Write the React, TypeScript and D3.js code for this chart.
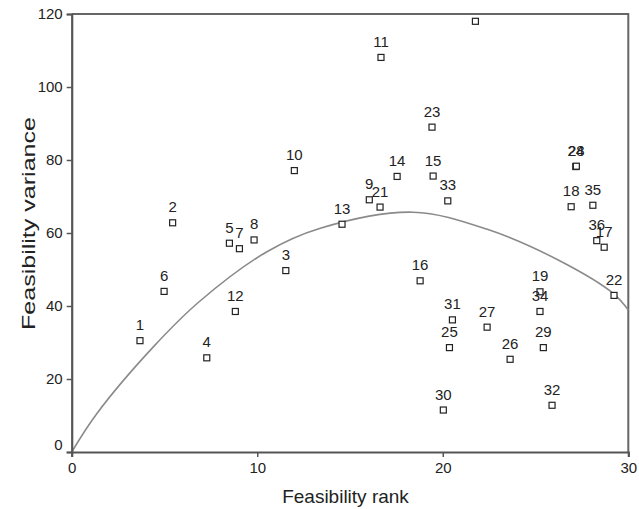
import React, { useEffect, useRef } from "react";
import * as d3 from "d3";

// project numbers, rank on x, variance on y
const ids = [
  1, 2, 3, 4, 5, 6, 7, 8, 9, 10, 11, 12, 13, 14, 15, 16, 17, 18, 19, 20, 21,
  22, 23, 24, 25, 26, 27, 28, 29, 30, 31, 32, 33, 34, 35, 36,
];
const ranks = [
  3.68, 5.44, 11.54, 7.28, 8.5, 4.98, 9.04, 9.83, 16.04, 12.0, 16.67, 8.82,
  14.57, 17.54, 19.48, 18.78, 28.7, 26.92, 25.24, 21.76, 16.62, 29.23, 19.42,
  27.17, 20.36, 23.63, 22.39, 27.2, 25.42, 20.03, 20.52, 25.89, 20.27, 25.24,
  28.09, 28.3,
];
const variances = [
  30.5, 62.8, 49.7, 25.8, 57.2, 44.0, 55.7, 58.1, 69.1, 77.1, 108.1, 38.5,
  62.4, 75.5, 75.6, 46.9, 56.1, 67.2, 43.9, 118.0, 67.1, 42.9, 89.0, 78.2,
  28.6, 25.4, 34.2, 78.3, 28.6, 11.5, 36.2, 12.8, 68.8, 38.5, 67.6, 57.9,
];

// trend line
const trendRank = [0, 1.35, 4.4, 6.9, 10.5, 13.4, 18.4, 22.4, 26.3, 29.2, 30];
const trendValue = [0, 10.5, 28.8, 41.3, 54.8, 61.3, 65.7, 61.0, 52.4, 43.4, 38.9];

const xTicks = [0, 10, 20, 30];
const yTicks = [0, 20, 40, 60, 80, 100, 120];

const font = "'Liberation Sans', Arial, sans-serif";

const App = () => {
  const svgRef = useRef<SVGSVGElement | null>(null);

  useEffect(() => {
    if (!svgRef.current) return;
    const svg = d3.select(svgRef.current);
    svg.selectAll("*").remove();

    const x = d3.scaleLinear().domain([0, 30]).range([71.7, 628.3]);
    const y = d3.scaleLinear().domain([0, 120]).range([452, 14]);

    svg
      .append("defs")
      .append("clipPath")
      .attr("id", "plot-clip")
      .append("rect")
      .attr("x", x(0))
      .attr("y", y(120))
      .attr("width", x(30) - x(0))
      .attr("height", y(0) - y(120));

    // frame (top + right)
    svg
      .append("path")
      .attr("d", `M${x(0)},${y(120)}H${x(30)}V${y(0)}`)
      .attr("fill", "none")
      .attr("stroke", "#666")
      .attr("stroke-width", 2);

    // trend curve
    const line = d3
      .line<number>()
      .x((d, i) => x(trendRank[i]))
      .y((d) => y(d))
      .curve(d3.curveCatmullRom.alpha(0.5));
    svg
      .append("path")
      .attr("d", line(trendValue))
      .attr("fill", "none")
      .attr("stroke", "#8a8a8a")
      .attr("stroke-width", 1.6);

    // axes
    const yAxis = svg
      .append("g")
      .attr("transform", `translate(${x(0)},0)`)
      .call(d3.axisLeft(y).tickValues(yTicks).tickSize(5).tickPadding(4));
    const xAxis = svg
      .append("g")
      .attr("transform", `translate(0,${y(0)})`)
      .call(d3.axisBottom(x).tickValues(xTicks).tickSize(5).tickPadding(5));

    [yAxis, xAxis].forEach((ax) => {
      ax.select(".domain").attr("stroke", "#555").attr("stroke-width", 2.2);
      ax.selectAll(".tick line").attr("stroke", "#555").attr("stroke-width", 1.5);
      ax.selectAll(".tick text")
        .attr("fill", "#222")
        .attr("font-size", 15)
        .attr("font-family", font);
    });
    yAxis
      .selectAll<SVGTextElement, number>(".tick text")
      .attr("dy", (d) => (d === 0 ? "-0.2em" : "0.32em"));

    // points
    const pts = svg.append("g");
    ids.forEach((id, i) => {
      const cx = x(ranks[i]);
      const cy = y(variances[i]);
      pts
        .append("rect")
        .attr("x", cx - 3)
        .attr("y", cy - 3)
        .attr("width", 6)
        .attr("height", 6)
        .attr("fill", "white")
        .attr("stroke", "#222")
        .attr("stroke-width", 1.2);
    });

    const labels = svg.append("g").attr("clip-path", "url(#plot-clip)");
    ids.forEach((id, i) => {
      labels
        .append("text")
        .attr("x", x(ranks[i]))
        .attr("y", y(variances[i]) - 10.5)
        .attr("text-anchor", "middle")
        .attr("font-size", 15)
        .attr("font-family", font)
        .attr("fill", "#222")
        .text(id);
    });

    // axis titles
    svg
      .append("text")
      .attr("x", 345.5)
      .attr("y", 503)
      .attr("text-anchor", "middle")
      .attr("font-size", 19)
      .attr("font-family", font)
      .attr("fill", "#222")
      .text("Feasibility rank");

    svg
      .append("text")
      .attr("transform", "translate(34.5,223.5) rotate(-90)")
      .attr("text-anchor", "middle")
      .attr("font-size", 19)
      .attr("font-family", font)
      .attr("fill", "#222")
      .attr("textLength", 213)
      .attr("lengthAdjust", "spacingAndGlyphs")
      .text("Feasibility variance");
  }, []);

  return (
    <div>
      <style>{`body{margin:0}`}</style>
      <svg ref={svgRef} width={639} height={509} style={{ display: "block", background: "#fff" }} />
    </div>
  );
};

export default App;
